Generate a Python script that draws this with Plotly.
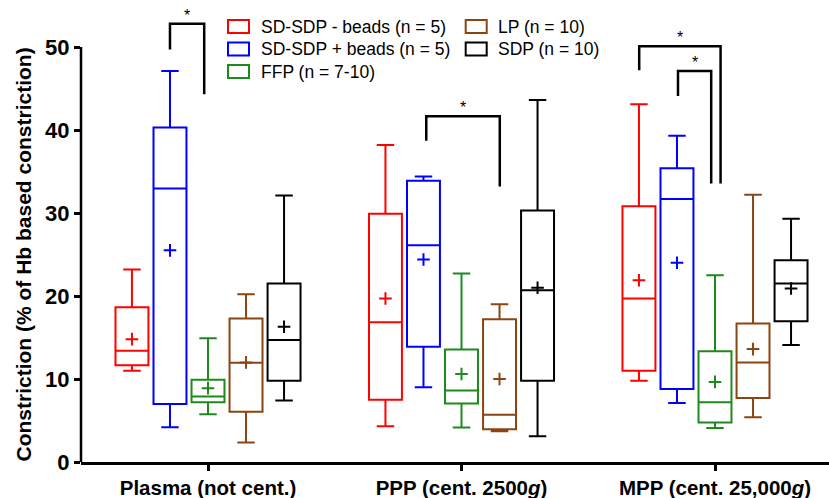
import plotly.graph_objects as go

# ---------------- data ----------------
groups = ["Plasma (not cent.)", "PPP (cent. 2500<i>g</i>)", "MPP (cent. 25,000<i>g</i>)"]
series_names = ["SD-SDP - beads (n = 5)", "SD-SDP + beads (n = 5)", "FFP (n = 7-10)",
                "LP (n = 10)", "SDP (n = 10)"]
series_colors = ["#FF0000", "#0000FF", "#1E8A1E", "#8B4513", "#000000"]

mins    = [[11.0, 4.3, 9.8],   [4.2, 9.0, 7.1],    [5.76, 4.15, 4.1],  [2.35, 3.7, 5.4],   [7.4, 3.1, 14.1]]
q1s     = [[11.66, 7.5, 11.0], [7.0, 13.9, 8.8],   [7.2, 7.05, 4.75],  [6.05, 3.95, 7.7],  [9.8, 9.8, 16.96]]
medians = [[13.4, 16.85, 19.7],[32.95, 26.1, 31.7],[7.9, 8.6, 7.2],    [11.95, 5.7, 12.0], [14.7, 20.7, 21.5]]
q3s     = [[18.65, 29.9, 30.8],[40.3, 33.9, 35.4], [9.9, 13.55, 13.35],[17.3, 17.2, 16.7], [21.5, 30.3, 24.3]]
maxs    = [[23.2, 38.2, 43.1], [47.1, 34.4, 39.3], [14.9, 22.7, 22.5], [20.2, 19.0, 32.2], [32.1, 43.6, 29.3]]
means   = [[14.8, 19.7, 21.9], [25.5, 24.4, 24.0], [8.9, 10.6, 9.65],  [12.0, 10.0, 13.6], [16.3, 21.0, 20.9]]

y_ticks = [0, 10, 20, 30, 40, 50]

# significance brackets: (x left, x right, y top, y left leg end, y right leg end)
brk_x_left   = [-0.15, 0.861, 1.701, 1.854]
brk_x_right  = [-0.015, 1.151, 2.022, 1.985]
brk_y_top    = [52.8, 41.66, 50.1, 47.1]
brk_y_left   = [49.7, 38.7, 47.2, 44.1]
brk_y_right  = [44.3, 33.2, 33.55, 33.55]
brk_label = ["*", "*", "*", "*"]

# ---------------- figure ----------------
offsets = [-0.3, -0.15, 0.0, 0.15, 0.3]
FONT = "Liberation Sans, Arial, sans-serif"

fig = go.Figure()
for i, name in enumerate(series_names):
    xs = [g + offsets[i] for g in range(len(groups))]
    fig.add_trace(go.Box(
        x=xs, q1=q1s[i], median=medians[i], q3=q3s[i],
        lowerfence=mins[i], upperfence=maxs[i],
        name=name, width=0.13, whiskerwidth=0.53,
        fillcolor="rgba(0,0,0,0)", line=dict(color=series_colors[i], width=2),
        boxpoints=False, showlegend=False, hoverinfo="skip",
    ))
    fig.add_trace(go.Scatter(
        x=xs, y=means[i], mode="markers", showlegend=False, hoverinfo="skip",
        marker=dict(symbol="cross-thin", size=9, line=dict(color=series_colors[i], width=2)),
    ))

for k in range(len(brk_label)):
    fig.add_trace(go.Scatter(
        x=[brk_x_left[k], brk_x_left[k], brk_x_right[k], brk_x_right[k]],
        y=[brk_y_left[k], brk_y_top[k], brk_y_top[k], brk_y_right[k]],
        mode="lines", line=dict(color="black", width=2.5), cliponaxis=False,
        showlegend=False, hoverinfo="skip",
    ))
    fig.add_annotation(x=(brk_x_left[k] + brk_x_right[k]) / 2, y=brk_y_top[k],
                       text=brk_label[k], showarrow=False, yanchor="bottom",
                       yshift=-2, font=dict(family=FONT, size=16, color="black"))

# manual legend (two columns)
L, W, T, H = 81, 748, 0, 462
def px2x(px): return (px - L) / W
def py2y(py): return (H - py) / H
leg_cols = [(228, 259), (228, 259), (228, 259), (465.7, 496), (465.7, 496)]
leg_rows = [26.5, 49, 71.5, 26.5, 49]
for i, name in enumerate(series_names):
    bx, tx = leg_cols[i]
    cy = leg_rows[i]
    fig.add_shape(type="rect", xref="paper", yref="paper",
                  x0=px2x(bx), x1=px2x(bx + 21), y0=py2y(cy + 6.5), y1=py2y(cy - 6.5),
                  line=dict(color=series_colors[i], width=2), fillcolor="rgba(0,0,0,0)")
    fig.add_annotation(xref="paper", yref="paper", x=px2x(tx), y=py2y(cy),
                       xanchor="left", yanchor="middle", text=name, showarrow=False,
                       font=dict(family=FONT, size=17.5, color="black"))

# y axis line only from 0 to 50
fig.add_shape(type="line", xref="paper", yref="y", x0=0, x1=0, y0=0, y1=50,
              line=dict(color="black", width=2.5))

fig.add_annotation(xref="paper", yref="y", x=px2x(23), y=25.0,
                   text="Constriction (% of Hb based constriction)", textangle=-90,
                   showarrow=False, xanchor="center", yanchor="middle",
                   font=dict(family=FONT, size=21, color="black", weight="bold"))

fig.update_layout(
    width=829, height=498,
    margin=dict(l=81, r=0, t=0, b=36),
    paper_bgcolor="white", plot_bgcolor="white",
    boxmode="overlay", showlegend=False,
    xaxis=dict(range=[-0.501, 2.4497], tickvals=list(range(len(groups))), ticktext=groups,
               showline=True, linecolor="black", linewidth=2.5, ticks="outside",
               ticklen=6, tickwidth=2.5, tickcolor="black", showgrid=False, zeroline=False,
               tickfont=dict(family=FONT, size=20.5, color="black", weight="bold")),
    yaxis=dict(range=[0, 462 / 8.3], tickvals=y_ticks, showline=False, ticks="outside",
               ticklen=6, tickwidth=2.5, tickcolor="black", showgrid=False, zeroline=False,
               tickfont=dict(family=FONT, size=22, color="black", weight="bold")),
)

fig.write_html("out.html")
